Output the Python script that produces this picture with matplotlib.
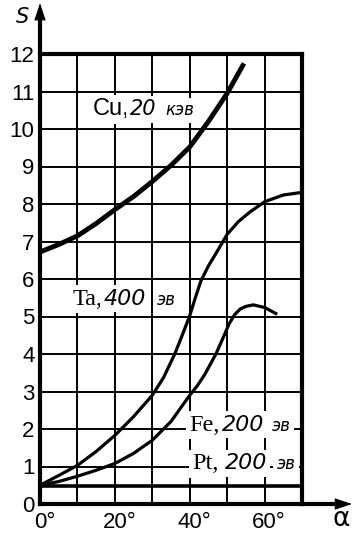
import matplotlib
matplotlib.use("Agg")
import matplotlib.pyplot as plt
import matplotlib.transforms as mtransforms

# ---------------- data ----------------
cu_alpha = [0, 5, 10, 15, 20, 25, 30, 35, 40, 45, 50, 54.5]
cu_S = [6.72, 6.92, 7.15, 7.48, 7.85, 8.2, 8.6, 9.03, 9.52, 10.2, 10.95, 11.75]

ta_alpha = [0, 5, 10, 15, 20, 25, 30, 33, 36, 38, 40, 41.5, 43, 45, 47, 50, 53, 56, 60, 65, 70]
ta_S = [0.5, 0.76, 1.03, 1.4, 1.83, 2.33, 2.9, 3.37, 4.0, 4.5, 5.02, 5.5, 5.95, 6.35,
        6.68, 7.19, 7.53, 7.78, 8.06, 8.24, 8.31]

fe_alpha = [0, 5, 10, 15, 20, 25, 30, 35, 40, 42, 44, 47, 49, 50.5, 52, 53.5, 55, 57, 60, 63]
fe_S = [0.5, 0.6, 0.74, 0.9, 1.08, 1.35, 1.7, 2.2, 2.9, 3.15, 3.45, 4.0, 4.45, 4.8,
        5.05, 5.2, 5.27, 5.31, 5.24, 5.08]

pt_alpha = [0, 70]
pt_S = [0.47, 0.47]

x_ticks = [0, 10, 20, 30, 40, 50, 60, 70]
x_tick_labels = ["0°", "", "20°", "", "40°", "", "60°", ""]
y_ticks = list(range(0, 13))
y_tick_labels = [str(v) for v in y_ticks]

# ---------------- figure ----------------
plt.rcParams["font.family"] = ["DejaVu Sans"]
tick_family = ["Liberation Sans", "DejaVu Sans"]

fig = plt.figure(figsize=(3.63, 5.42), dpi=100)
W, H = 363.0, 542.0
ax = fig.add_axes([40 / W, (H - 504) / H, 262 / W, 450 / H])
ax.set_xlim(0, 70)
ax.set_ylim(0, 12)

ax.set_xticks(x_ticks)
ax.set_xticklabels(x_tick_labels, family=tick_family, fontsize=16)
ax.set_yticks(y_ticks)
ax.set_yticklabels(y_tick_labels, family=tick_family, fontsize=16)
ax.tick_params(length=0)
ax.tick_params(axis="y", pad=4)
ax.tick_params(axis="x", pad=6)
shift = mtransforms.ScaledTranslation(4.5 / 100, 0, fig.dpi_scale_trans)
for lab in ax.get_xticklabels():
    lab.set_transform(lab.get_transform() + shift)

ax.grid(True, color="black", lw=1.4, zorder=1)
ax.set_axisbelow(True)
for sp in ax.spines.values():
    sp.set_linewidth(3.0)
    sp.set_color("black")

# axis arrows
ax.plot([0, 0], [1.0, 1.09], transform=ax.transAxes, clip_on=False, color="k", lw=3.0,
        solid_capstyle="butt")
ax.annotate("", xy=(0, 1.113), xytext=(0, 1.07), xycoords="axes fraction",
            arrowprops=dict(arrowstyle="-|>,head_length=0.9,head_width=0.3", color="k",
                            lw=0.8, shrinkA=0, shrinkB=0, mutation_scale=12))
ax.plot([1.0, 1.16], [0, 0], transform=ax.transAxes, clip_on=False, color="k", lw=3.0,
        solid_capstyle="butt")
ax.annotate("", xy=(1.191, 0), xytext=(1.13, 0), xycoords="axes fraction",
            arrowprops=dict(arrowstyle="-|>,head_length=0.9,head_width=0.3", color="k",
                            lw=0.8, shrinkA=0, shrinkB=0, mutation_scale=12))

fig.text(22 / W, 1 - 17 / H, "S", fontsize=15, style="italic", ha="center", va="center")
fig.text(341 / W, 1 - 519 / H, "α", fontsize=19, ha="center", va="center")

# curves
ax.plot(cu_alpha, cu_S, color="black", lw=3.5, solid_capstyle="butt",
        solid_joinstyle="round", zorder=5)
ax.plot(ta_alpha, ta_S, color="black", lw=2.3, solid_joinstyle="round", zorder=5)
ax.plot(fe_alpha, fe_S, color="black", lw=2.3, solid_joinstyle="round", zorder=5)
ax.plot(pt_alpha, pt_S, color="black", lw=2.6, zorder=5)

# labels
box = dict(facecolor="white", edgecolor="none", pad=2.5)


def label(parts, y):
    for x, s, kw in parts:
        ax.text(x, y, s, va="baseline", ha="left", bbox=box, zorder=3, **kw)


serif = dict(family=["Liberation Serif", "DejaVu Serif"], fontsize=17.5)
sans = dict(family=["Liberation Sans", "DejaVu Sans"], fontsize=17)
num = dict(family=["DejaVu Sans"], style="oblique", fontsize=16)
num_s = dict(family=["DejaVu Sans"], style="oblique", fontsize=15)
small = dict(family=["DejaVu Sans"], style="oblique", fontsize=12)

label([(14.1, "Cu,", sans), (24.0, "20", num_s), (33.6, "кэв", small)], 10.37)
label([(8.8, "Ta,", serif), (17.0, "400", num), (31.2, "эв", small)], 5.31)
label([(40.0, "Fe,", serif), (48.6, "200", num), (61.9, "эв", small)], 1.95)
label([(40.8, "Pt,", serif), (49.3, "200", num), (63.2, "эв", small)], 0.93)

fig.savefig("out.png", dpi=100)
